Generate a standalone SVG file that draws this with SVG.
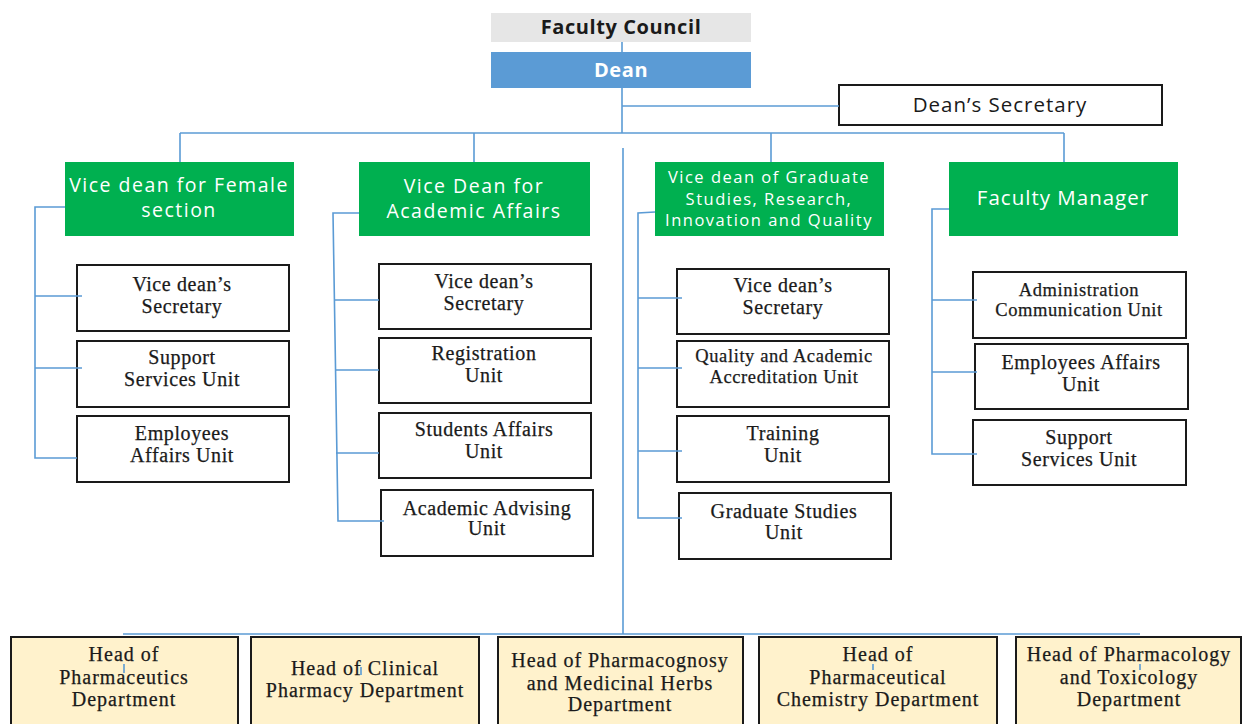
<svg xmlns="http://www.w3.org/2000/svg" width="1245" height="724" viewBox="0 0 1245 724">
<style>
.bg{fill:#ffffff}
.fc{fill:#e6e6e6}
.dean{fill:#5b9bd5}
.vd{fill:#00b050}
.unit{fill:#ffffff;stroke:#1a1a1a;stroke-width:2}
.dept{fill:#fff2cc;stroke:#1a1a1a;stroke-width:2}
.sans{font-family:"Open Sans","Noto Sans","Liberation Sans",sans-serif;text-anchor:middle;letter-spacing:1px}
.vt{letter-spacing:1.5px}
.serif{font-family:"Liberation Serif","Times New Roman",serif;text-anchor:middle;fill:#1a1a1a;stroke:#1a1a1a;stroke-width:0.25;letter-spacing:0.6px}
.dtxt{letter-spacing:1px}
.w{fill:#ffffff}
.k{fill:#1a1a1a}
.b{font-weight:bold;letter-spacing:0.6px}
.conn{fill:none;stroke:#5b9bd5;stroke-width:1.6}
</style>
<rect class="bg" x="0" y="0" width="1245" height="724"/>

<g id="faculty-council">
<rect class="fc" x="491" y="13" width="260" height="29"/>
<text class="sans k b" x="621" y="34" font-size="20">Faculty Council</text>
</g>
<g id="dean">
<rect class="dean" x="491" y="52" width="260" height="36"/>
<text class="sans w b" x="621" y="77" font-size="20">Dean</text>
</g>
<g id="deans-secretary">
<rect class="unit" x="839" y="85" width="323" height="40"/>
<text class="sans k" x="1000" y="112" font-size="20.5">Dean’s Secretary</text>
</g>

<g id="vd-female">
<rect class="vd" x="65" y="162" width="229" height="74"/>
<text class="sans w vt" font-size="19.5"><tspan x="179" y="192">Vice dean for Female</tspan><tspan x="179" y="217">section</tspan></text>
</g>
<g id="vd-academic">
<rect class="vd" x="359" y="162" width="231" height="74"/>
<text class="sans w vt" font-size="19.5"><tspan x="474" y="193">Vice Dean for</tspan><tspan x="474" y="218">Academic Affairs</tspan></text>
</g>
<g id="vd-graduate">
<rect class="vd" x="655" y="162" width="229" height="74"/>
<text class="sans w vt" font-size="16.5"><tspan x="769" y="183">Vice dean of Graduate</tspan><tspan x="769" y="205">Studies, Research,</tspan><tspan x="769" y="226">Innovation and Quality</tspan></text>
</g>
<g id="faculty-manager">
<rect class="vd" x="949" y="162" width="229" height="74"/>
<text class="sans w" font-size="20.5" x="1063" y="205">Faculty Manager</text>
</g>

<g id="f-secretary">
<rect class="unit" x="77" y="265" width="212" height="66"/>
<text class="serif" font-size="20"><tspan x="182" y="291">Vice dean’s</tspan><tspan x="182" y="313">Secretary</tspan></text>
</g>
<g id="f-support">
<rect class="unit" x="77" y="341" width="212" height="66"/>
<text class="serif" font-size="20"><tspan x="182" y="364">Support</tspan><tspan x="182" y="386">Services Unit</tspan></text>
</g>
<g id="f-employees">
<rect class="unit" x="77" y="416" width="212" height="66"/>
<text class="serif" font-size="20"><tspan x="182" y="440">Employees</tspan><tspan x="182" y="462">Affairs Unit</tspan></text>
</g>

<g id="a-secretary">
<rect class="unit" x="379" y="264" width="212" height="65"/>
<text class="serif" font-size="20"><tspan x="484" y="288">Vice dean’s</tspan><tspan x="484" y="310">Secretary</tspan></text>
</g>
<g id="a-registration">
<rect class="unit" x="379" y="338" width="212" height="65"/>
<text class="serif" font-size="20"><tspan x="484" y="360">Registration</tspan><tspan x="484" y="382">Unit</tspan></text>
</g>
<g id="a-students">
<rect class="unit" x="379" y="413" width="212" height="65"/>
<text class="serif" font-size="20"><tspan x="484" y="436">Students Affairs</tspan><tspan x="484" y="458">Unit</tspan></text>
</g>
<g id="a-advising">
<rect class="unit" x="381" y="490" width="212" height="66"/>
<text class="serif" font-size="20"><tspan x="487" y="515">Academic Advising</tspan><tspan x="487" y="535">Unit</tspan></text>
</g>

<g id="g-secretary">
<rect class="unit" x="677" y="269" width="212" height="65"/>
<text class="serif" font-size="20"><tspan x="783" y="292">Vice dean’s</tspan><tspan x="783" y="314">Secretary</tspan></text>
</g>
<g id="g-quality">
<rect class="unit" x="677" y="341" width="212" height="66"/>
<text class="serif" font-size="18.5"><tspan x="784" y="362">Quality and Academic</tspan><tspan x="784" y="383">Accreditation Unit</tspan></text>
</g>
<g id="g-training">
<rect class="unit" x="677" y="416" width="212" height="66"/>
<text class="serif" font-size="20"><tspan x="783" y="440">Training</tspan><tspan x="783" y="462">Unit</tspan></text>
</g>
<g id="g-graduate">
<rect class="unit" x="679" y="493" width="212" height="66"/>
<text class="serif" font-size="20"><tspan x="784" y="518">Graduate Studies</tspan><tspan x="784" y="539">Unit</tspan></text>
</g>

<g id="m-admin">
<rect class="unit" x="973" y="272" width="213" height="66"/>
<text class="serif" font-size="18.5"><tspan x="1079" y="296">Administration</tspan><tspan x="1079" y="316">Communication Unit</tspan></text>
</g>
<g id="m-employees">
<rect class="unit" x="975" y="344" width="213" height="65"/>
<text class="serif" font-size="20"><tspan x="1081" y="369">Employees Affairs</tspan><tspan x="1081" y="391">Unit</tspan></text>
</g>
<g id="m-support">
<rect class="unit" x="973" y="420" width="213" height="65"/>
<text class="serif" font-size="20"><tspan x="1079" y="444">Support</tspan><tspan x="1079" y="466">Services Unit</tspan></text>
</g>

<g id="d-pharmaceutics">
<rect class="dept" x="11" y="637" width="227" height="95"/>
<text class="serif dtxt" font-size="20"><tspan x="124" y="661">Head of</tspan><tspan x="124" y="684">Pharmaceutics</tspan><tspan x="124" y="706">Department</tspan></text>
</g>
<g id="d-clinical">
<rect class="dept" x="251" y="637" width="228" height="95"/>
<text class="serif dtxt" font-size="20"><tspan x="365" y="675">Head of Clinical</tspan><tspan x="365" y="697">Pharmacy Department</tspan></text>
</g>
<g id="d-pharmacognosy">
<rect class="dept" x="498" y="637" width="245" height="95"/>
<text class="serif dtxt" font-size="20"><tspan x="620" y="667">Head of Pharmacognosy</tspan><tspan x="620" y="690">and Medicinal Herbs</tspan><tspan x="620" y="711">Department</tspan></text>
</g>
<g id="d-chemistry">
<rect class="dept" x="759" y="637" width="238" height="95"/>
<text class="serif dtxt" font-size="20"><tspan x="878" y="661">Head of</tspan><tspan x="878" y="684">Pharmaceutical</tspan><tspan x="878" y="706">Chemistry Department</tspan></text>
</g>
<g id="d-pharmacology">
<rect class="dept" x="1016" y="637" width="225" height="95"/>
<text class="serif dtxt" font-size="20"><tspan x="1129" y="661">Head of Pharmacology</tspan><tspan x="1129" y="684">and Toxicology</tspan><tspan x="1129" y="706">Department</tspan></text>
</g>

<g id="connectors" class="conn">
<path d="M622 42V52"/>
<path d="M622 88V133"/>
<path d="M622 106H839"/>
<path d="M180 133H1064"/>
<path d="M180 133V162M474 133V162M771 133V162M1064 133V162"/>
<path d="M623 148V634"/>
<path d="M123 634H1140"/>
<path d="M124 664V673M361 667V675M873 664V670M1140 664V670"/>
<path d="M65 207H35V458H77M35 296H82M35 368H82"/>
<path d="M359 213H333L338 521H384M334 300H379M335 370H379M336 453H379"/>
<path d="M655 212L638 213V518H682M638 298H682M638 368H682M638 451H682"/>
<path d="M949 209H932V454H977M932 300H977M932 372H977"/>
</g>
</svg>
